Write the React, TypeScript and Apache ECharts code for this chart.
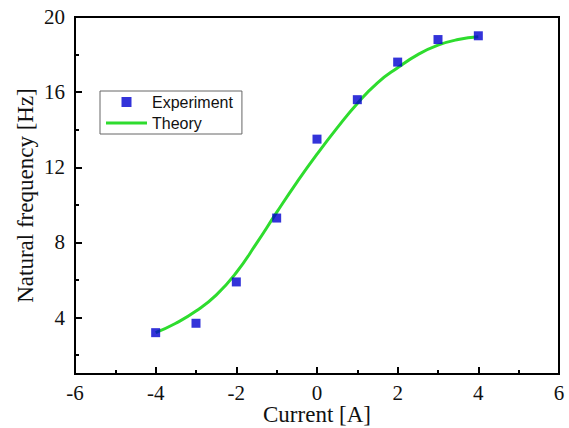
import React, { useEffect, useRef } from "react";
import * as echarts from "echarts";

// Measured natural frequency versus coil current
const currentA = [-4, -3, -2, -1, 0, 1, 2, 3, 4];
const experimentHz = [3.2, 3.7, 5.9, 9.3, 13.5, 15.6, 17.6, 18.8, 19.0];

// Model prediction, sampled every 0.5 A
const theoryCurrentA = [-4, -3.5, -3, -2.5, -2, -1.5, -1, -0.5, 0, 0.5, 1, 1.5, 2, 2.5, 3, 3.5, 4];
const theoryHz = [3.2, 3.7, 4.35, 5.2, 6.4, 7.95, 9.6, 11.2, 12.7, 14.1, 15.4, 16.5, 17.3, 18.0, 18.5, 18.8, 18.95];

const yMajorTicks = [4, 8, 12, 16, 20];
const yMinorTicks = [2, 6, 10, 14, 18];

const serif = "'Liberation Serif', 'Times New Roman', serif";
const sans = "'Liberation Sans', Arial, sans-serif";

const WIDTH = 569;
const HEIGHT = 428;
const GRID = { left: 75, right: 10, top: 17, bottom: 54 };
const plotWidth = WIDTH - GRID.left - GRID.right;

export default function App() {
  const ref = useRef<HTMLDivElement>(null);

  useEffect(() => {
    if (!ref.current) return;
    const chart = echarts.init(ref.current, null, { renderer: "svg" });
    chart.setOption({
      animation: false,
      backgroundColor: "#fff",
      grid: {
        ...GRID,
        outerBoundsMode: "none",
        containLabel: false,
        show: true,
        borderColor: "#000",
        borderWidth: 2,
      },
      legend: {
        orient: "vertical",
        left: 100,
        top: 91,
        padding: [3, 9, 3, 6],
        itemGap: 5,
        itemWidth: 41,
        itemHeight: 10,
        symbolKeepAspect: true,
        borderColor: "#666",
        borderWidth: 1,
        textStyle: { fontFamily: sans, fontSize: 16, color: "#111" },
        data: [
          { name: "Experiment", icon: "path://M0 0H10V10H0Z" },
          { name: "Theory", icon: "path://M0 0H41V3H0Z" },
        ],
      },
      xAxis: {
        type: "value",
        min: -6,
        max: 6,
        interval: 2,
        name: "Current [A]",
        nameLocation: "middle",
        nameGap: 29,
        nameMoveOverlap: false,
        nameTextStyle: { fontFamily: serif, fontSize: 23, color: "#111" },
        axisLine: { onZero: false, lineStyle: { color: "#000", width: 2 } },
        axisTick: { inside: true, length: 7, lineStyle: { color: "#000", width: 2 } },
        minorTick: { show: true, splitNumber: 2, length: 4, lineStyle: { color: "#000", width: 2 } },
        axisLabel: { fontFamily: serif, fontSize: 21, color: "#111", margin: 8 },
        splitLine: { show: false },
      },
      yAxis: [
        {
          type: "value",
          position: "left",
          min: 1,
          max: 20,
          name: "Natural frequency [Hz]",
          nameLocation: "middle",
          nameGap: 38,
          nameMoveOverlap: false,
          nameTextStyle: { fontFamily: serif, fontSize: 23, color: "#111" },
          axisLine: { show: true, onZero: false, lineStyle: { color: "#000", width: 2 } },
          axisTick: {
            inside: true,
            length: 7,
            customValues: yMajorTicks,
            lineStyle: { color: "#000", width: 2 },
          },
          axisLabel: {
            fontFamily: serif,
            fontSize: 21,
            color: "#111",
            margin: 10,
            customValues: yMajorTicks,
          },
          splitLine: { show: false },
        },
        {
          // minor ticks only; moved from the right edge onto the left spine
          type: "value",
          position: "right",
          offset: -plotWidth,
          min: 1,
          max: 20,
          axisLine: { show: false, onZero: false },
          axisTick: {
            inside: false,
            length: 4,
            customValues: yMinorTicks,
            lineStyle: { color: "#000", width: 2 },
          },
          axisLabel: { show: false },
          splitLine: { show: false },
        },
      ],
      series: [
        {
          name: "Experiment",
          type: "scatter",
          symbol: "rect",
          symbolSize: 9,
          itemStyle: { color: "#0000d0" },
          data: currentA.map((x, i) => [x, experimentHz[i]]),
          z: 3,
        },
        {
          name: "Theory",
          type: "line",
          smooth: 0.5,
          showSymbol: false,
          symbol: "none",
          lineStyle: { color: "#2edc2e", width: 3 },
          itemStyle: { color: "#2edc2e" },
          data: theoryCurrentA.map((x, i) => [x, theoryHz[i]]),
          z: 2,
        },
      ],
    });
    return () => chart.dispose();
  }, []);

  return (
    <div
      ref={ref}
      style={{ position: "fixed", left: 0, top: 0, width: WIDTH, height: HEIGHT }}
    />
  );
}
